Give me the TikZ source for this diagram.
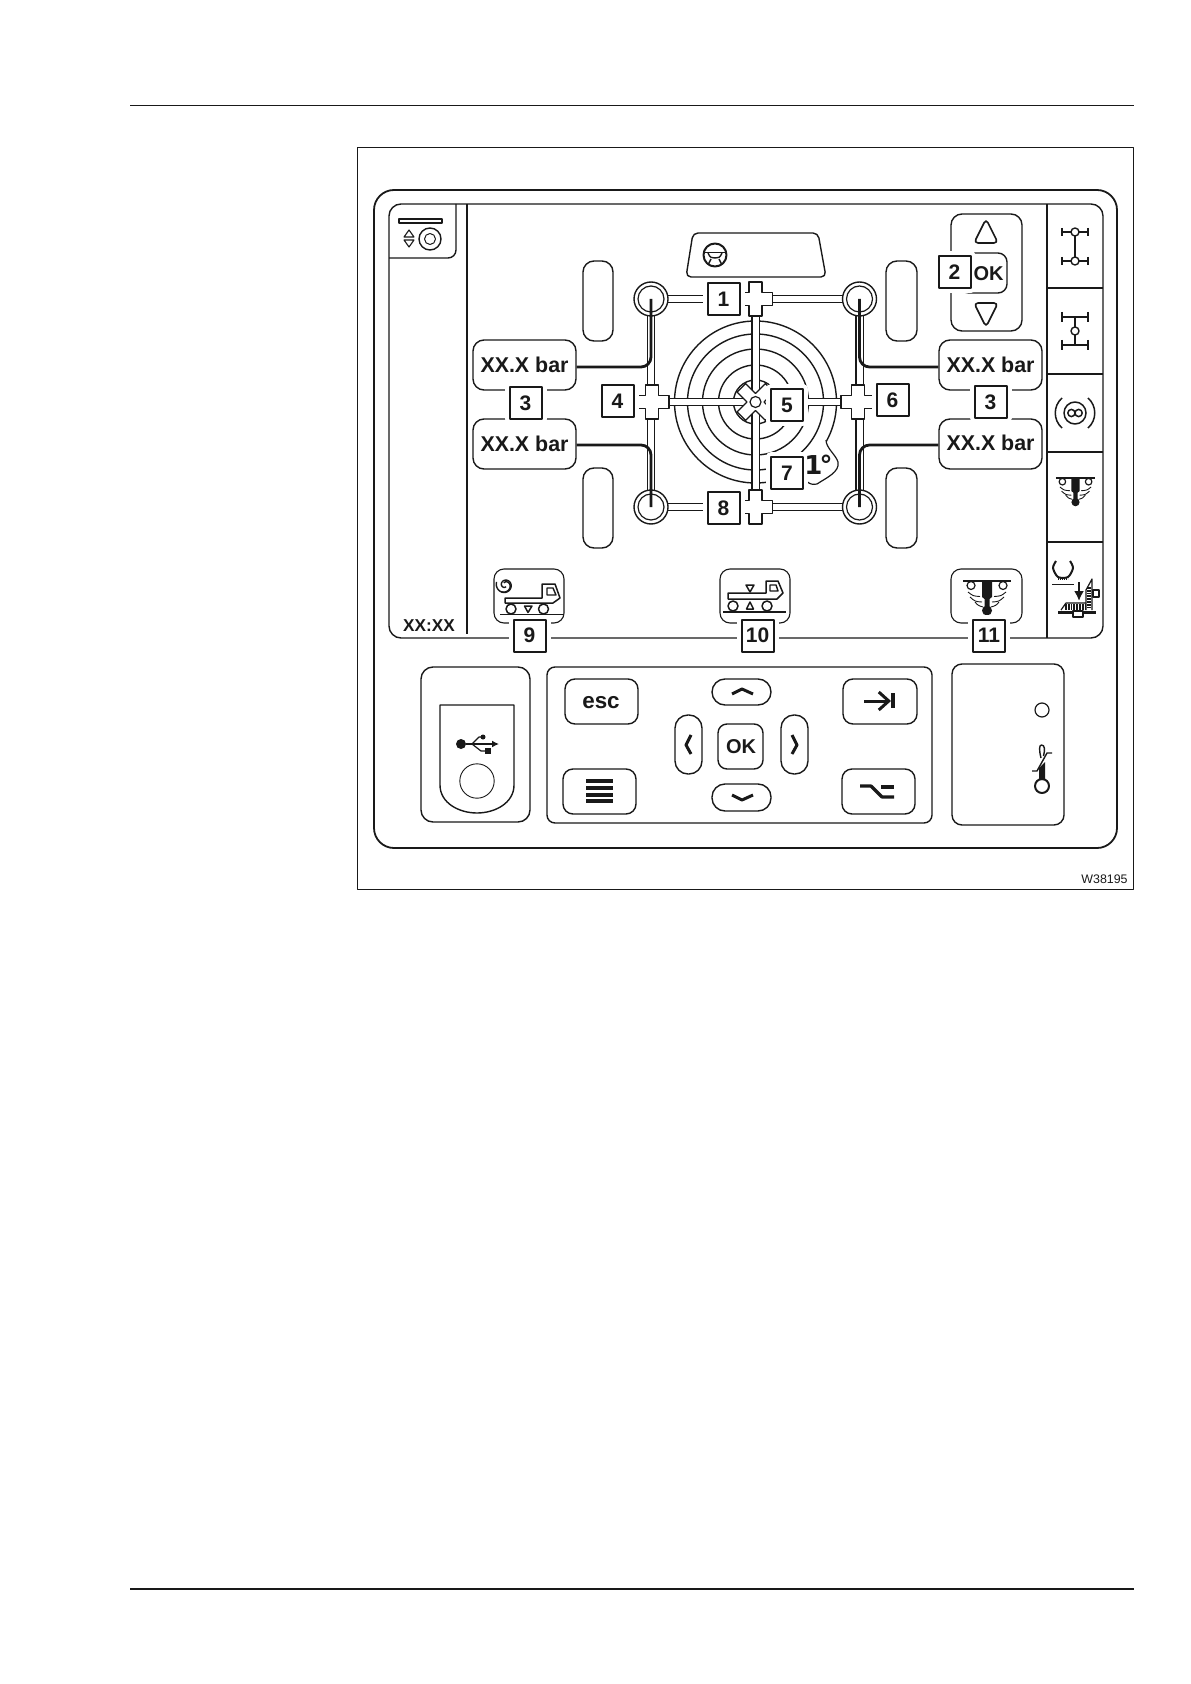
\documentclass[tikz,border=0pt]{standalone}
\usepackage{fontspec}
\setmainfont{Liberation Sans}
\newfontfamily\heavyfont{DejaVu Sans}
\usetikzlibrary{arrows.meta}
\definecolor{ink}{gray}{0.1}
\tikzset{
  every path/.style={line join=round},
  ln/.style={draw=ink,line width=.7pt},
  ln2/.style={draw=ink,line width=.9pt},
  icon/.style={draw=ink,line width=.75pt},
  pipe/.style={draw=ink,line width=.6pt,double=white,double distance=3pt},
  sensor/.style={draw=ink,line width=1.4pt,rounded corners=5pt},
  numbox/.style={draw=ink,line width=1pt,fill=white,minimum size=16pt,inner sep=0pt,
    font=\bfseries\fontsize{10.5}{12}\selectfont,text=ink,
    preaction={draw=white,line width=5pt}},
  barbox/.style={draw=ink,line width=.7pt,fill=white,rounded corners=5.5pt,minimum width=51.5pt,minimum height=25pt,inner sep=0pt,
    font=\bfseries\fontsize{10.7}{12}\selectfont,text=ink},
  wheelnode/.style={circle,draw=ink,line width=.7pt,fill=white,minimum size=17pt,inner sep=0pt},
  crossshape/.style={draw=ink,line width=.6pt,fill=white},
  crossstyleshift/.style={crossshape,shift={(#1)}},
  keytext/.style={font=\bfseries\fontsize{10}{12}\selectfont,text=ink,inner sep=0pt},
  chev/.style={draw=ink,line width=1.5pt},
  bluntline/.style={draw=ink,line width=1.6pt},
  pivot/.style={circle,draw=ink,line width=.7pt,fill=white,minimum size=4pt,inner sep=0pt},
}
\newcommand{\plusat}[1]{\draw[crossstyleshift={#1}] (-6.5,-17)--(6.5,-17)--(6.5,-6.5)--(17,-6.5)--(17,6.5)--(6.5,6.5)--(6.5,17)--(-6.5,17)--(-6.5,6.5)--(-17,6.5)--(-17,-6.5)--(-6.5,-6.5)--cycle;}
\newcommand{\thermoglyph}{
  \draw[icon,line width=.6pt] (-24,0)--(24,0);
  \draw[icon,line width=.6pt] (-16,4.5) circle (4) (16,4.5) circle (4);
  \fill[ink] (-5,0)--(5,0)--(5,16)--(2.5,18)--(2.5,28)--(-2.5,28)--(-2.5,18)--(-5,16)--cycle;
  \fill[ink] (0,29.5) circle (5);
  \draw[icon,line width=.45pt] (-19,11) .. controls (-14,15) .. (-7,15.5);
  \draw[icon,line width=.45pt] (-17,16) .. controls (-12,20.5) .. (-5,21);
  \draw[icon,line width=.45pt] (-12,21) .. controls (-9,24.5) .. (-4,26);
  \draw[icon,line width=.45pt] (19,11) .. controls (14,15) .. (7,15.5);
  \draw[icon,line width=.45pt] (17,16) .. controls (12,20.5) .. (5,21);
  \draw[icon,line width=.45pt] (12,21) .. controls (9,24.5) .. (4,26);
}
\begin{document}
\begin{tikzpicture}[x=.5pt,y=-.5pt]
\useasboundingbox (0,0) rectangle (1190,1684);
% page rules and frame
\draw[ln,line width=.55pt] (130,105.5)--(1134,105.5);
\draw[ln,line width=.55pt] (130,1589)--(1134,1589);
\draw[draw=ink,line width=.45pt] (357,147) rectangle (1133,889);
\node[anchor=east,inner sep=0pt,font=\fontsize{6.2}{8}\selectfont,text=ink] (code) at (1128,879) {W38195};
% outer panel
\draw[ln2,rounded corners=10pt] (374,190) rectangle (1117,848);
% screen
\draw[ln,rounded corners=6pt] (389,204) rectangle (1103,638);
\draw[ln,line width=.55pt] (467,204)--(467,634);
\draw[ln,line width=.55pt] (1047,204)--(1047,638);
\draw[ln,line width=.55pt] (1047,288)--(1103,288);
\draw[ln2] (1047,374)--(1103,374);
\draw[ln,line width=.55pt] (1047,452)--(1103,452);
\draw[ln,line width=.55pt] (1047,542)--(1103,542);
% top-left tab
\draw[ln] (456,204)--(456,250) [rounded corners=4pt] -- (456,258)--(389,258);
\draw[ln] (399,219) rectangle (442,223);
\node[wheelnode,minimum size=11pt] (dial) at (430,239) {};
\draw[icon,line width=.5pt] (dial.center) circle (5.5);
\draw[icon,line width=.55pt] (404,237)--(409,230)--(414,237)--cycle;
\draw[icon,line width=.55pt] (404,240)--(409,247)--(414,240)--cycle;
\node[inner sep=0pt,font=\bfseries\fontsize{8.6}{10}\selectfont,text=ink] (clock) at (429,626) {XX:XX};
% steering box
\draw[ln,rounded corners=2.5pt] (693,233)--(818,233)--(826,277)--(686,277)--cycle;
\node[circle,draw=ink,line width=1pt,minimum size=11.5pt,inner sep=0pt] (steer) at (715,255) {};
\draw[icon,line width=.9pt] (704,252.5)--(726,252.5);
\draw[icon,line width=.7pt] (708,253) .. controls (710,258) and (712,258) .. (715,258) .. controls (718,258) and (720,258) .. (722,253);
\draw[icon,line width=.7pt] (711,259)--(708,265) (719,259)--(722,265);
% tyres
\draw[ln,rounded corners=5.5pt] (583,261) rectangle (613,341);
\draw[ln,rounded corners=5.5pt] (583,468) rectangle (613,548);
\draw[ln,rounded corners=5.5pt] (886,261) rectangle (917,341);
\draw[ln,rounded corners=5.5pt] (886,468) rectangle (917,548);
% positions
\coordinate (pTL) at (651,299);
\coordinate (pTR) at (859.5,299);
\coordinate (pBL) at (651,507);
\coordinate (pBR) at (859.5,507);
\coordinate (cT) at (755.5,299);
\coordinate (cB) at (755.5,507);
\coordinate (cL) at (652,402);
\coordinate (cR) at (858,402);
\coordinate (c0) at (755.5,402);
% rings
\foreach \r in {81,68,53,37,22} \draw[icon,line width=.7pt] (c0) circle (\r);
% 1 degree blob
\fill[white] (826,440) .. controls (826,448) and (836,455) .. (838,462) .. controls (840,472) and (826,478) .. (817,484) -- (806,481) -- (790,470) -- (815,440) -- cycle;
\draw[draw=ink,line width=.6pt] (826,440) .. controls (826,448) and (836,455) .. (838,462) .. controls (840,472) and (826,478) .. (817,484) .. controls (812,485) and (810,484) .. (806,481);
% pipes
\draw[pipe] (pTL)--(pTR);
\draw[pipe] (pBL)--(pBR);
\draw[pipe] (pTL)--(pBL);
\draw[pipe] (pTR)--(pBR);
\draw[pipe] (cL)--(cR);
\draw[pipe] (cT)--(cB);
% crosses
\plusat{cT}
\plusat{cB}
\plusat{cL}
\plusat{cR}
\draw[crossshape,shift={(c0)},rotate=45] (-6,-20)--(6,-20)--(6,-6)--(20,-6)--(20,6)--(6,6)--(6,20)--(-6,20)--(-6,6)--(-20,6)--(-20,-6)--(-6,-6)--cycle;
\node[circle,draw=ink,line width=.6pt,fill=white,minimum size=5.5pt,inner sep=0pt] (hub) at (c0) {};
% wheels
\node[wheelnode] (wTL) at (pTL) {};
\node[wheelnode] (wTR) at (pTR) {};
\node[wheelnode] (wBL) at (pBL) {};
\node[wheelnode] (wBR) at (pBR) {};
\foreach \w in {wTL,wTR,wBL,wBR} \draw[icon,line width=.6pt] (\w.center) circle (13);
% pressure boxes
\node[barbox] (barTL) at (524.5,365) {XX.X bar};
\node[barbox] (barBL) at (524.5,444) {XX.X bar};
\node[barbox] (barTR) at (990.5,365) {\raisebox{-1.5pt}{XX.X bar}};
\node[barbox] (barBR) at (990.5,444) {\raisebox{1pt}{XX.X bar}};
% sensor lines
\draw[sensor] ([yshift=-1pt]barTL.east) -| (wTL.center);
\draw[sensor] ([yshift=-.5pt]barBL.east) -| (wBL.center);
\draw[sensor] ([yshift=-1pt]barTR.west) -| (wTR.center);
\draw[sensor] ([yshift=-.5pt]barBR.west) -| (wBR.center);
% nav block
\draw[ln,rounded corners=5.5pt] (951,214) rectangle (1022,331);
\draw[ln,rounded corners=2pt,line width=.8pt] (986,219)--(998,243)--(974,243)--cycle;
\draw[ln,rounded corners=2pt,line width=.8pt] (986,327)--(998,303)--(974,303)--cycle;
\draw[ln,rounded corners=4.5pt,fill=white] (960,253) rectangle (1007,293);
% bottom icon frames
\draw[ln,line width=.55pt,rounded corners=5pt] (494,569) rectangle (564,623);
\draw[ln,line width=.55pt,rounded corners=5pt] (720,569) rectangle (790,623);
\draw[ln,line width=.55pt,rounded corners=5pt] (951,569) rectangle (1022,623);
% truck 9
\draw[icon,line width=.8pt] (500,614.5)--(563,614.5);
\draw[icon,fill=white] (511,609) circle (5) (543.5,609) circle (5);
\draw[icon] (524.5,606)--(532,606)--(528,612.5)--cycle;
\draw[icon] (542,598)--(505,598)--(505,603)--(553,603)--(560,598)--(555,584)--(542,584)--cycle;
\draw[icon,line width=.7pt] (547,588)--(553,588)--(556,595)--(547,595)--cycle;
\draw[icon,line width=.7pt] plot[smooth,domain=60:560,samples=40] ({505+(1+\x/70)*cos(\x)},{585+(1+\x/70)*sin(\x)});
\draw[icon,line width=.7pt] plot[smooth,domain=60:300,samples=25] ({505-(1+\x/45)*cos(\x)},{585-(1+\x/45)*sin(\x)});
% truck 10
\draw[icon,line width=.8pt] (723,612)--(786,612);
\draw[icon,fill=white] (733,606) circle (5) (767,606) circle (5);
\draw[icon] (746.5,609)--(753.5,609)--(750,602)--cycle;
\draw[icon] (746,585)--(754,585)--(750,592)--cycle;
\draw[icon] (766,593)--(728,593)--(728,599)--(777,599)--(783,593)--(778,581)--(766,581)--cycle;
\draw[icon,line width=.7pt] (770,585)--(776,585)--(778,591)--(770,591)--cycle;
% thermo icons
\begin{scope}[shift={(987,581)}] \thermoglyph \end{scope}
\begin{scope}[shift={(1075.5,478)},scale=.82] \thermoglyph \end{scope}
% sidebar icons
\draw[icon,line width=1pt] (1075,232)--(1075,261);
\draw[icon,line width=.6pt] (1062,232)--(1088,232) (1062,261)--(1088,261);
\draw[icon,line width=.6pt] (1062,228)--(1062,236) (1088,228)--(1088,236) (1062,257)--(1062,265) (1088,257)--(1088,265);
\node[pivot] (a1) at (1075,232) {};
\node[pivot] (a2) at (1075,261) {};
\draw[icon,line width=1pt] (1075,317)--(1075,345);
\draw[icon,line width=1pt] (1062,317)--(1088,317) (1062,345)--(1088,345);
\draw[icon,line width=.6pt] (1062,312)--(1062,322) (1088,312)--(1088,322) (1062,340)--(1062,350) (1088,340)--(1088,350);
\node[pivot] (a3) at (1075,331) {};
\node[circle,draw=ink,line width=.75pt,minimum size=11pt,inner sep=0pt] (inf) at (1075,413) {};
\draw[icon] (1071.4,413) circle (3.6) (1078.6,413) circle (3.6);
\draw[icon] (1062,398) .. controls (1053,406) and (1053,420) .. (1062,428);
\draw[icon] (1088,398) .. controls (1097,406) and (1097,420) .. (1088,428);
% tyre + ramp icon
\draw[icon,line width=1pt] plot[smooth] coordinates {(1056,561) (1053,568) (1058,577) (1068,577) (1073,568) (1070,561)};
\draw[draw=ink,line width=1pt,dash pattern=on .6pt off .4pt] (1058,579)--(1068,579);
\draw[icon,line width=.8pt] (1052,584.5)--(1074,584.5);
\draw[draw=ink,line width=1.1pt,-{Latex[length=5pt,width=5pt]}] (1079,582)--(1079,601);
\draw[draw=ink,line width=3pt,dash pattern=on .9pt off .5pt] (1065,606.5)--(1085,606.5);
\draw[icon,line width=.6pt] (1061,610)--(1066,603)--(1086,603);
\draw[icon,line width=.6pt] (1086,610)--(1086,590)--(1092,579)--(1092,610);
\draw[draw=ink,line width=2.2pt,dash pattern=on .9pt off .5pt] (1089,587)--(1089,609);
\draw[icon,line width=1.1pt] (1058,612.5)--(1096,612.5);
\draw[icon,line width=.6pt,fill=white] (1093,590) rectangle (1099,597);
\draw[icon,line width=.6pt,fill=white] (1073,611) rectangle (1083,617);
% USB slot
\draw[ln,rounded corners=6pt] (421,667) rectangle (530,822);
\draw[ln] (440,705)--(514,705)--(514,785) .. controls (514,803) and (495,813) .. (477,813) .. controls (459,813) and (440,803) .. (440,785) -- cycle;
\node[circle,draw=ink,line width=.45pt,minimum size=17.2pt,inner sep=0pt] (usbhole) at (477,781) {};
\node[circle,fill=ink,minimum size=5pt,inner sep=0pt] (usbdot) at (461,744) {};
\coordinate (usbtip) at (499,744);
\draw[draw=ink,line width=.75pt,-{Latex[length=3.5pt,width=3.5pt]}] (usbdot)--(usbtip);
\draw[icon,line width=.6pt] (472,744)--(479,737)--(483,737);
\draw[icon,line width=.6pt] (472,744)--(481,751)--(486,751);
\fill[ink] (483,737) circle (2.5);
\fill[ink] (485,748) rectangle (491,754);
% keypad
\draw[ln,rounded corners=4pt] (547,667) rectangle (932,823);
\draw[ln,rounded corners=5pt] (565,679) rectangle (638,724);
\node[keytext,font=\bfseries\fontsize{11.2}{12}\selectfont] (esc) at (601,703) {esc};
\draw[ln,rounded corners=5pt] (563,769) rectangle (636,814);
\foreach \y in {781,788,795,801} \fill[ink] (586,\y-2) rectangle (613,\y+2);
\draw[ln,rounded corners=5pt] (843,679) rectangle (917,724);
\draw[draw=ink,line width=1.5pt,-{Straight Barb[length=5pt,width=9pt]}] (864,701)--(891,701);
\draw[draw=ink,line width=1.6pt] (893,693)--(893,708);
\draw[ln,rounded corners=5pt] (842,769) rectangle (915,814);
\draw[bluntline] (860,786)--(871,786)--(882,797)--(894,797);
\draw[bluntline] (881,787)--(894,787);
\draw[ln,rounded corners=6.5pt] (712,679) rectangle (771,705);
\draw[ln,rounded corners=6.5pt] (712,784) rectangle (771,811);
\draw[ln,rounded corners=6.5pt] (675,715) rectangle (702,774);
\draw[ln,rounded corners=6.5pt] (781,715) rectangle (808,774);
\draw[ln,rounded corners=4.5pt] (718,724) rectangle (763,769);
\node[keytext] (padok) at (741,747) {OK};
\draw[chev] (732,694)--(742,689)--(753,694);
\draw[chev] (732,795)--(742,800)--(753,795);
\draw[chev] (691,735)--(686,745)--(691,754);
\draw[chev] (792,735)--(797,745)--(792,754);
% right panel
\draw[ln,rounded corners=5pt] (952,664) rectangle (1064,825);
\node[circle,draw=ink,line width=.6pt,minimum size=7pt,inner sep=0pt] (lamp) at (1042,710) {};
\node[circle,draw=ink,line width=1pt,fill=white,minimum size=7pt,inner sep=0pt] (temp) at (1042,786) {};
\fill[ink] (1039,768)--(1045,762)--(1045,780)--(1039,780)--cycle;
\draw[icon,line width=.7pt] (1032,771)--(1037,771)--(1047,753)--(1052,753);
\draw[icon,line width=.7pt] (1041,758) .. controls (1039,750) and (1039,745) .. (1041.5,745) .. controls (1045,745) and (1045,750) .. (1043.5,756);
% numbered boxes
\node[numbox] (n1) at (723.5,299) {1};
\node[numbox] (n2) at (954.5,272) {2};
\node[keytext] (navok) at (988.5,274) {OK};
\node[numbox] (n3a) at (525.5,403) {3};
\node[numbox] (n3b) at (990.5,402) {3};
\node[numbox] (n4) at (617.5,401) {4};
\node[numbox] (n5) at (787,405) {5};
\node[numbox] (n6) at (892.5,400.5) {6};
\node[numbox] (n7) at (787,473) {7};
\node[numbox] (n8) at (723.5,508) {8};
\node[numbox] (n9) at (529.5,635.5) {9};
\node[numbox] (n10) at (757.5,635.5) {10};
\node[numbox] (n11) at (989,635.5) {11};
% 1 degree text
\node[inner sep=0pt,anchor=west,font=\heavyfont\bfseries\fontsize{13}{14}\selectfont,text=ink] (deg) at (804,464.5) {1\kern-1.5pt°};
\end{tikzpicture}
\end{document}
